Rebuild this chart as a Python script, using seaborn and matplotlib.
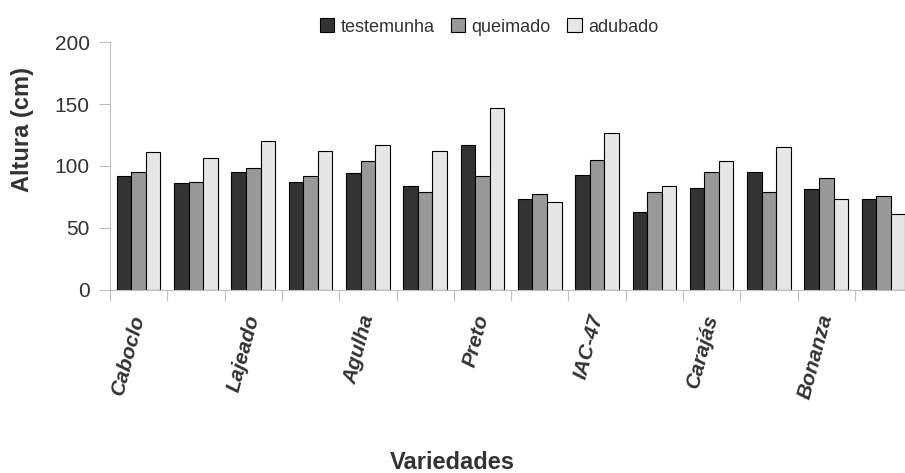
import matplotlib
matplotlib.use("Agg")
import matplotlib.pyplot as plt
import matplotlib.transforms as mtransforms
from matplotlib.ticker import FixedLocator
import seaborn as sns
import pandas as pd

# ---- data ----
grupos = list(range(1, 15))
rotulos = ["Caboclo", "", "Lajeado", "", "Agulha", "", "Preto", "",
           "IAC-47", "", "Carajás", "", "Bonanza", ""]
tratamentos = ["testemunha", "queimado", "adubado"]
testemunha = [92, 86, 95, 87, 94, 84, 117, 73, 93, 63, 82, 95, 81, 73]
queimado = [95, 87, 98, 92, 104, 79, 92, 77, 105, 79, 95, 79, 90, 76]
adubado = [111, 106, 120, 112, 117, 112, 147, 71, 127, 84, 104, 115, 73, 61]
yticks = [0, 50, 100, 150, 200]

rows = []
for t, vals in zip(tratamentos, [testemunha, queimado, adubado]):
    for g, v in zip(grupos, vals):
        rows.append({"grupo": str(g), "tratamento": t, "altura": v})
df = pd.DataFrame(rows)

sns.set_style("white")
plt.rcParams["font.family"] = ["Liberation Sans", "DejaVu Sans"]

W, H = 905, 473
fig = plt.figure(figsize=(W / 100, H / 100), dpi=100)
ax = fig.add_axes([110 / W, (H - 289.5) / H, 802.2 / W, 247.2 / H])

palette = {"testemunha": "#333333", "queimado": "#999999", "adubado": "#e6e6e6"}
sns.barplot(data=df, x="grupo", y="altura", hue="tratamento",
            order=[str(g) for g in grupos], hue_order=tratamentos,
            palette=palette, width=0.76, gap=0, edgecolor="black",
            linewidth=0.8, saturation=1, ax=ax, legend=True)

ax.set_xlim(-0.5, len(grupos) - 0.5)
ax.set_ylim(0, 200)
ax.set_yticks(yticks)
ax.set_yticklabels([str(v) for v in yticks], fontsize=15, color="#333333")
gray = "#c0c0c0"
ax.tick_params(axis="y", length=8, width=0.8, color=gray, pad=6.5, left=True)

for s in ["top", "right"]:
    ax.spines[s].set_visible(False)
for s in ["left", "bottom"]:
    ax.spines[s].set_color(gray)
    ax.spines[s].set_linewidth(0.8)

# group-boundary ticks
ax.xaxis.set_minor_locator(FixedLocator([i - 0.5 for i in range(len(grupos) + 1)]))
ax.tick_params(axis="x", which="minor", length=8, width=0.8, color=gray, bottom=True)
ax.tick_params(axis="x", which="major", length=0, pad=16.5)
ax.set_xticks(range(len(grupos)))
ax.set_xticklabels(rotulos, rotation=75, ha="right", fontsize=15,
                   fontweight="bold", fontstyle="italic", color="#333333")
offset = mtransforms.ScaledTranslation(10 / 100, 0, fig.dpi_scale_trans)
for lbl in ax.get_xticklabels():
    lbl.set_transform(lbl.get_transform() + offset)
ax.set_xlabel("")
ax.set_ylabel("")

handles, labels = ax.get_legend_handles_labels()
ax.get_legend().remove()
fig.legend(handles, labels, loc="center", bbox_to_anchor=(489 / W, 1 - 27 / H),
           ncol=3, frameon=False, fontsize=13, handlelength=0.8,
           handleheight=0.8, handletextpad=0.35, columnspacing=0.9,
           labelcolor="#333333")

fig.text(22 / W, 1 - 129 / H, "Altura (cm)", rotation=90, fontsize=17,
         fontweight="bold", ha="center", va="center", color="#333333")
fig.text(452 / W, 4 / H, "Variedades", fontsize=17, fontweight="bold",
         ha="center", va="baseline", color="#333333")

fig.savefig("out.png", dpi=100)
